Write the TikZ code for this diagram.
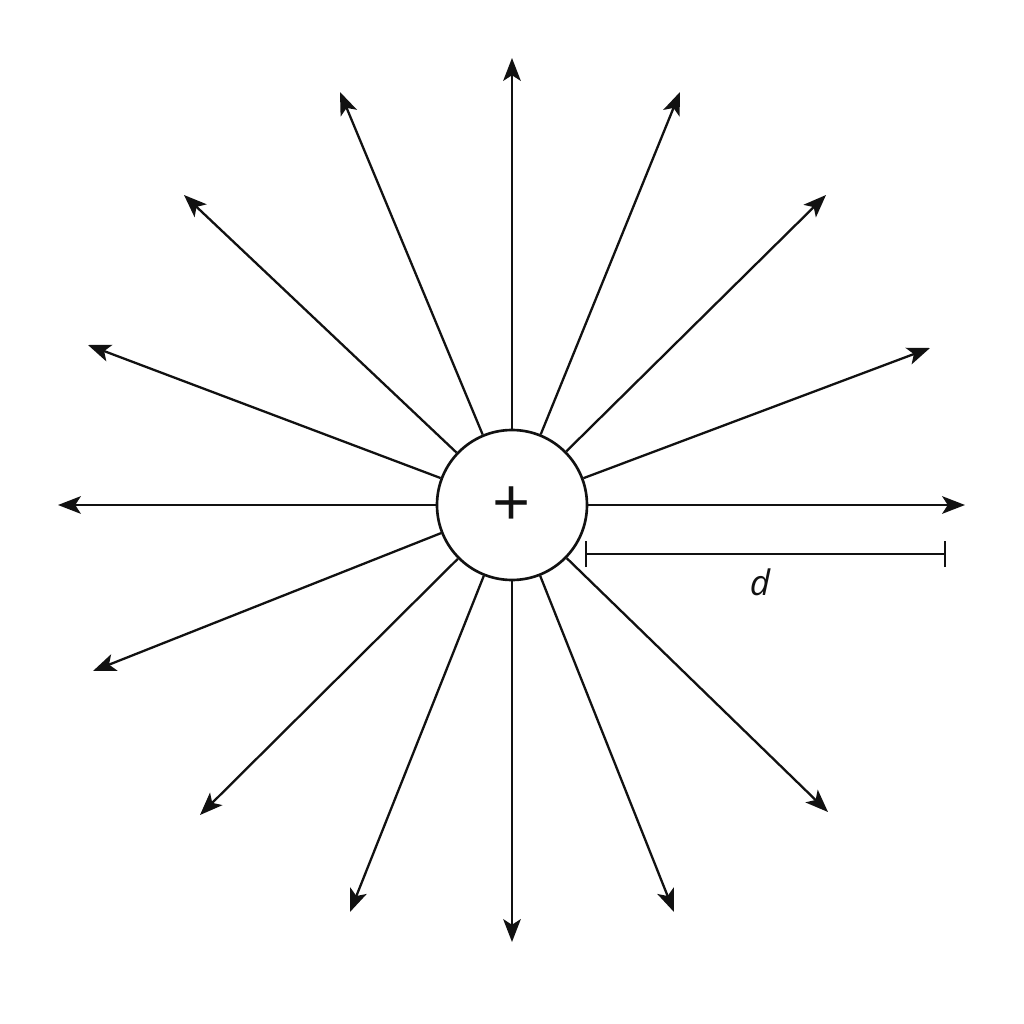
\documentclass[tikz,border=0pt]{standalone}
\usepackage{fontspec}
\setsansfont{Open Sans}
\usepackage{tikz}
\usetikzlibrary{arrows.meta}
\definecolor{ink}{HTML}{111111}
\tikzset{
  charge/.style={draw=ink, line width=0.75pt, circle, minimum size=1.5cm, inner sep=0pt, fill=white},
  field/.style={draw=ink, line width=0.65pt, -{Stealth[length=6.5pt, width=5pt, inset=1.6pt]}},
  dimline/.style={draw=ink, line width=0.65pt},
  lab/.style={text=ink, font=\sffamily}
}
\begin{document}
\begin{tikzpicture}
  \useasboundingbox[fill=white] (-5.12,-5.19) rectangle (5.12,5.05);

  % point charge
  \node[charge] (q) at (0,0) {};
  \node[lab, font=\sffamily\fontsize{19}{19}\selectfont] (plus) at (0,-0.02) {+};

  % arrow tips
  \foreach \n/\x/\y in {0/4.53/0, 1/4.18/1.57, 2/3.14/3.10, 3/1.68/4.13,
      4/0/4.47, 5/-1.72/4.13, 6/-3.28/3.10, 7/-4.24/1.60, 8/-4.54/0,
      9/-4.19/-1.66, 10/-3.12/-3.10, 11/-1.62/-4.07, 12/0/-4.37,
      13/1.62/-4.07, 14/3.16/-3.07}
    \coordinate (e\n) at (\x,\y);

  % field lines
  \foreach \n in {0,...,14}
    \draw[field] (q) -- (e\n);

  % distance d
  \coordinate (d1) at (0.74,-0.49);
  \coordinate (d2) at (4.33,-0.49);
  \draw[dimline] (d1) -- (d2);
  \draw[dimline] ([yshift=-0.13cm]d1) -- ([yshift=0.13cm]d1);
  \draw[dimline] ([yshift=-0.13cm]d2) -- ([yshift=0.13cm]d2);
  \node[lab, font=\sffamily\itshape\fontsize{10}{10}\selectfont] (dlab) at (2.48,-0.77) {d};
\end{tikzpicture}
\end{document}
